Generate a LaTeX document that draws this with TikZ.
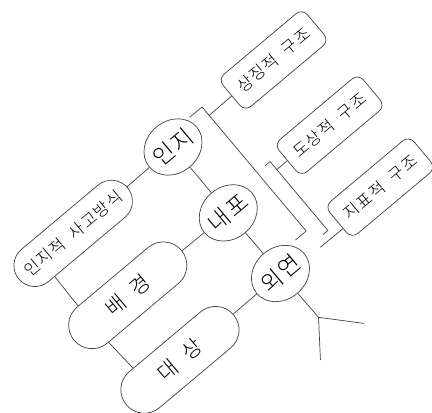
\documentclass[tikz,border=0pt]{standalone}
\usepackage{fontspec}
\setmainfont{Noto Sans CJK KR Light}[LetterSpace=8, WordSpace=2]
\usetikzlibrary{shapes.geometric}
\tikzstyle{concept} = [ellipse, draw=black!75, line width=0.7pt, minimum width=62pt, minimum height=52pt, inner sep=-10pt, font=\fontsize{23}{26}\selectfont]
\tikzstyle{pill} = [rectangle, rounded corners=23.5pt, draw=black!75, line width=0.7pt, minimum width=140pt, minimum height=47pt, inner sep=0pt, text centered, font=\fontsize{21}{24}\selectfont]
\tikzstyle{longpill} = [pill, rounded corners=21pt, minimum width=142pt, minimum height=42pt, font=\fontsize{16.5}{19}\selectfont]
\tikzstyle{struct} = [rectangle, rounded corners=8pt, draw=black!75, line width=0.7pt, minimum width=110pt, minimum height=42pt, inner sep=0pt, text centered, font=\fontsize{16.5}{19}\selectfont]
\tikzstyle{link} = [draw=black!75, line width=0.7pt]

\begin{document}
\begin{tikzpicture}[x=1pt,y=1pt]
\useasboundingbox (0,0) rectangle (432,413);
\begin{scope}[shift={(173,266)}, rotate=40, transform shape]

\node (inji) [concept] at (0,0) {인지};
\node (naepo) [concept] at (0,-86) {내포};
\node (oeyeon) [concept] at (1,-166) {외연};
\node (sago) [longpill] at (-132,-2) {인지적 사고방식};
\node (baeg) [pill] at (-130,-84.5) {배 경};
\node (daes) [pill] at (-131.5,-167.5) {대 상};
\node (sangj) [struct] at (133,2) {상징적 구조};
\node (dosang) [struct] at (134,-84) {도상적 구조};
\node (jipyo) [struct] at (133,-164) {지표적 구조};

\coordinate (b1m) at (48,1);
\coordinate (b2m) at (65,-84);
\coordinate (jend) at (48.5,-171.5);
\coordinate (fork) at (2,-224);
\coordinate (forkr) at (33,-258);
\coordinate (forkl) at (-24,-258);

%% primero los nodos, despues las lineas
\draw [link] (inji) -- (sago);
\draw [link] (inji) -- (naepo);
\draw [link] (naepo) -- (baeg);
\draw [link] (naepo) -- (oeyeon);
\draw [link] (oeyeon) -- (daes);
\draw [link] (sago.207) -- (baeg.152);
\draw [link] (baeg.208) -- (daes.150);
\draw [link] (oeyeon) -- (fork) -- (forkr);
\draw [link] (fork) -- (forkl);

\draw [link] (32,12) -- (48,12) -- (48,-150) -- (34,-150);
\draw [link] (58.5,-73.5) -- (65,-73.5) -- (65,-163.5) -- (58.5,-163.5);
\draw [link] (sangj) -- (b1m);
\draw [link] (dosang) -- (b2m);
\draw [link] (jipyo.188) -- (jend);

\end{scope}
\end{tikzpicture}
\end{document}
